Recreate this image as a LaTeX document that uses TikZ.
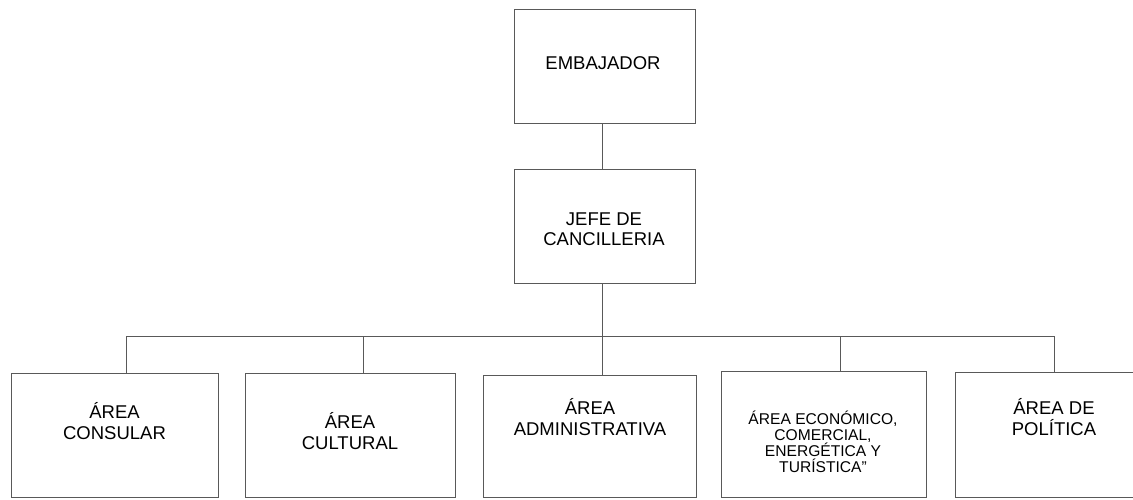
\documentclass[tikz,border=0pt]{standalone}
\usepackage{fontspec}
\setmainfont{Liberation Sans}
\begin{document}
\begin{tikzpicture}[x=1pt,y=-1pt,
  box/.style={draw=black!65, line width=0.8pt, rectangle, inner sep=0pt, fill=white},
  lbl/.style={align=center, inner sep=0pt, font=\fontsize{18.5}{20.5}\selectfont},
  lblsmall/.style={align=center, inner sep=0pt, font=\fontsize{15.6}{15.5}\selectfont},
  conn/.style={draw=black!65, line width=0.8pt}]
\useasboundingbox (0,0) rectangle (1133,499);
\clip (0,0) rectangle (1133,499);
\fill[white] (0,0) rectangle (1133,499);
% top boxes
\node[box, minimum width=181pt, minimum height=114pt] (emb) at (604.5,66) {};
\node[lbl] (embt) at (603,63) {EMBAJADOR};
\node[box, minimum width=181pt, minimum height=114pt] (jefe) at (604.5,226) {};
\node[lbl] (jefet) at (604,229) {JEFE DE\\CANCILLERIA};
% bottom boxes
\node[box, minimum width=207pt, minimum height=124pt] (b1) at (114.5,435) {};
\node[box, minimum width=210pt, minimum height=124pt] (b2) at (350,435) {};
\node[box, minimum width=213pt, minimum height=122pt] (b3) at (589.5,436) {};
\node[box, minimum width=205pt, minimum height=126pt] (b4) at (823.5,434) {};
\node[box, minimum width=198pt, minimum height=125pt] (b5) at (1054,434.5) {};
\node[lbl] (t1) at (114.5,421) {ÁREA\\CONSULAR};
\node[lbl] (t2) at (350,431) {ÁREA\\CULTURAL};
\node[lbl] (t3) at (590,417) {ÁREA\\ADMINISTRATIVA};
\node[lblsmall] (t4) at (823,442) {ÁREA ECONÓMICO,\\COMERCIAL,\\ENERGÉTICA Y\\TURÍSTICA”};
\node[lbl] (t5) at (1054,417) {ÁREA DE\\POLÍTICA};
% connectors
\coordinate (jtop) at (602,123);
\coordinate (jbot) at (602,169);
\coordinate (barL) at (126,336);
\coordinate (barR) at (1054,336);
\coordinate (barM) at (602,336);
\draw[conn] (jtop) -- (jbot);
\draw[conn] (jefe.south -| barM) -- (barM);
\draw[conn] (barL) -- (barR);
\draw[conn] (barL) -- (barL |- b1.north);
\draw[conn] (363,336) -- (b2.north -| 363,0);
\draw[conn] (barM) -- (barM |- b3.north);
\draw[conn] (840,336) -- (b4.north -| 840,0);
\draw[conn] (barR) -- (barR |- b5.north);
\end{tikzpicture}
\end{document}
